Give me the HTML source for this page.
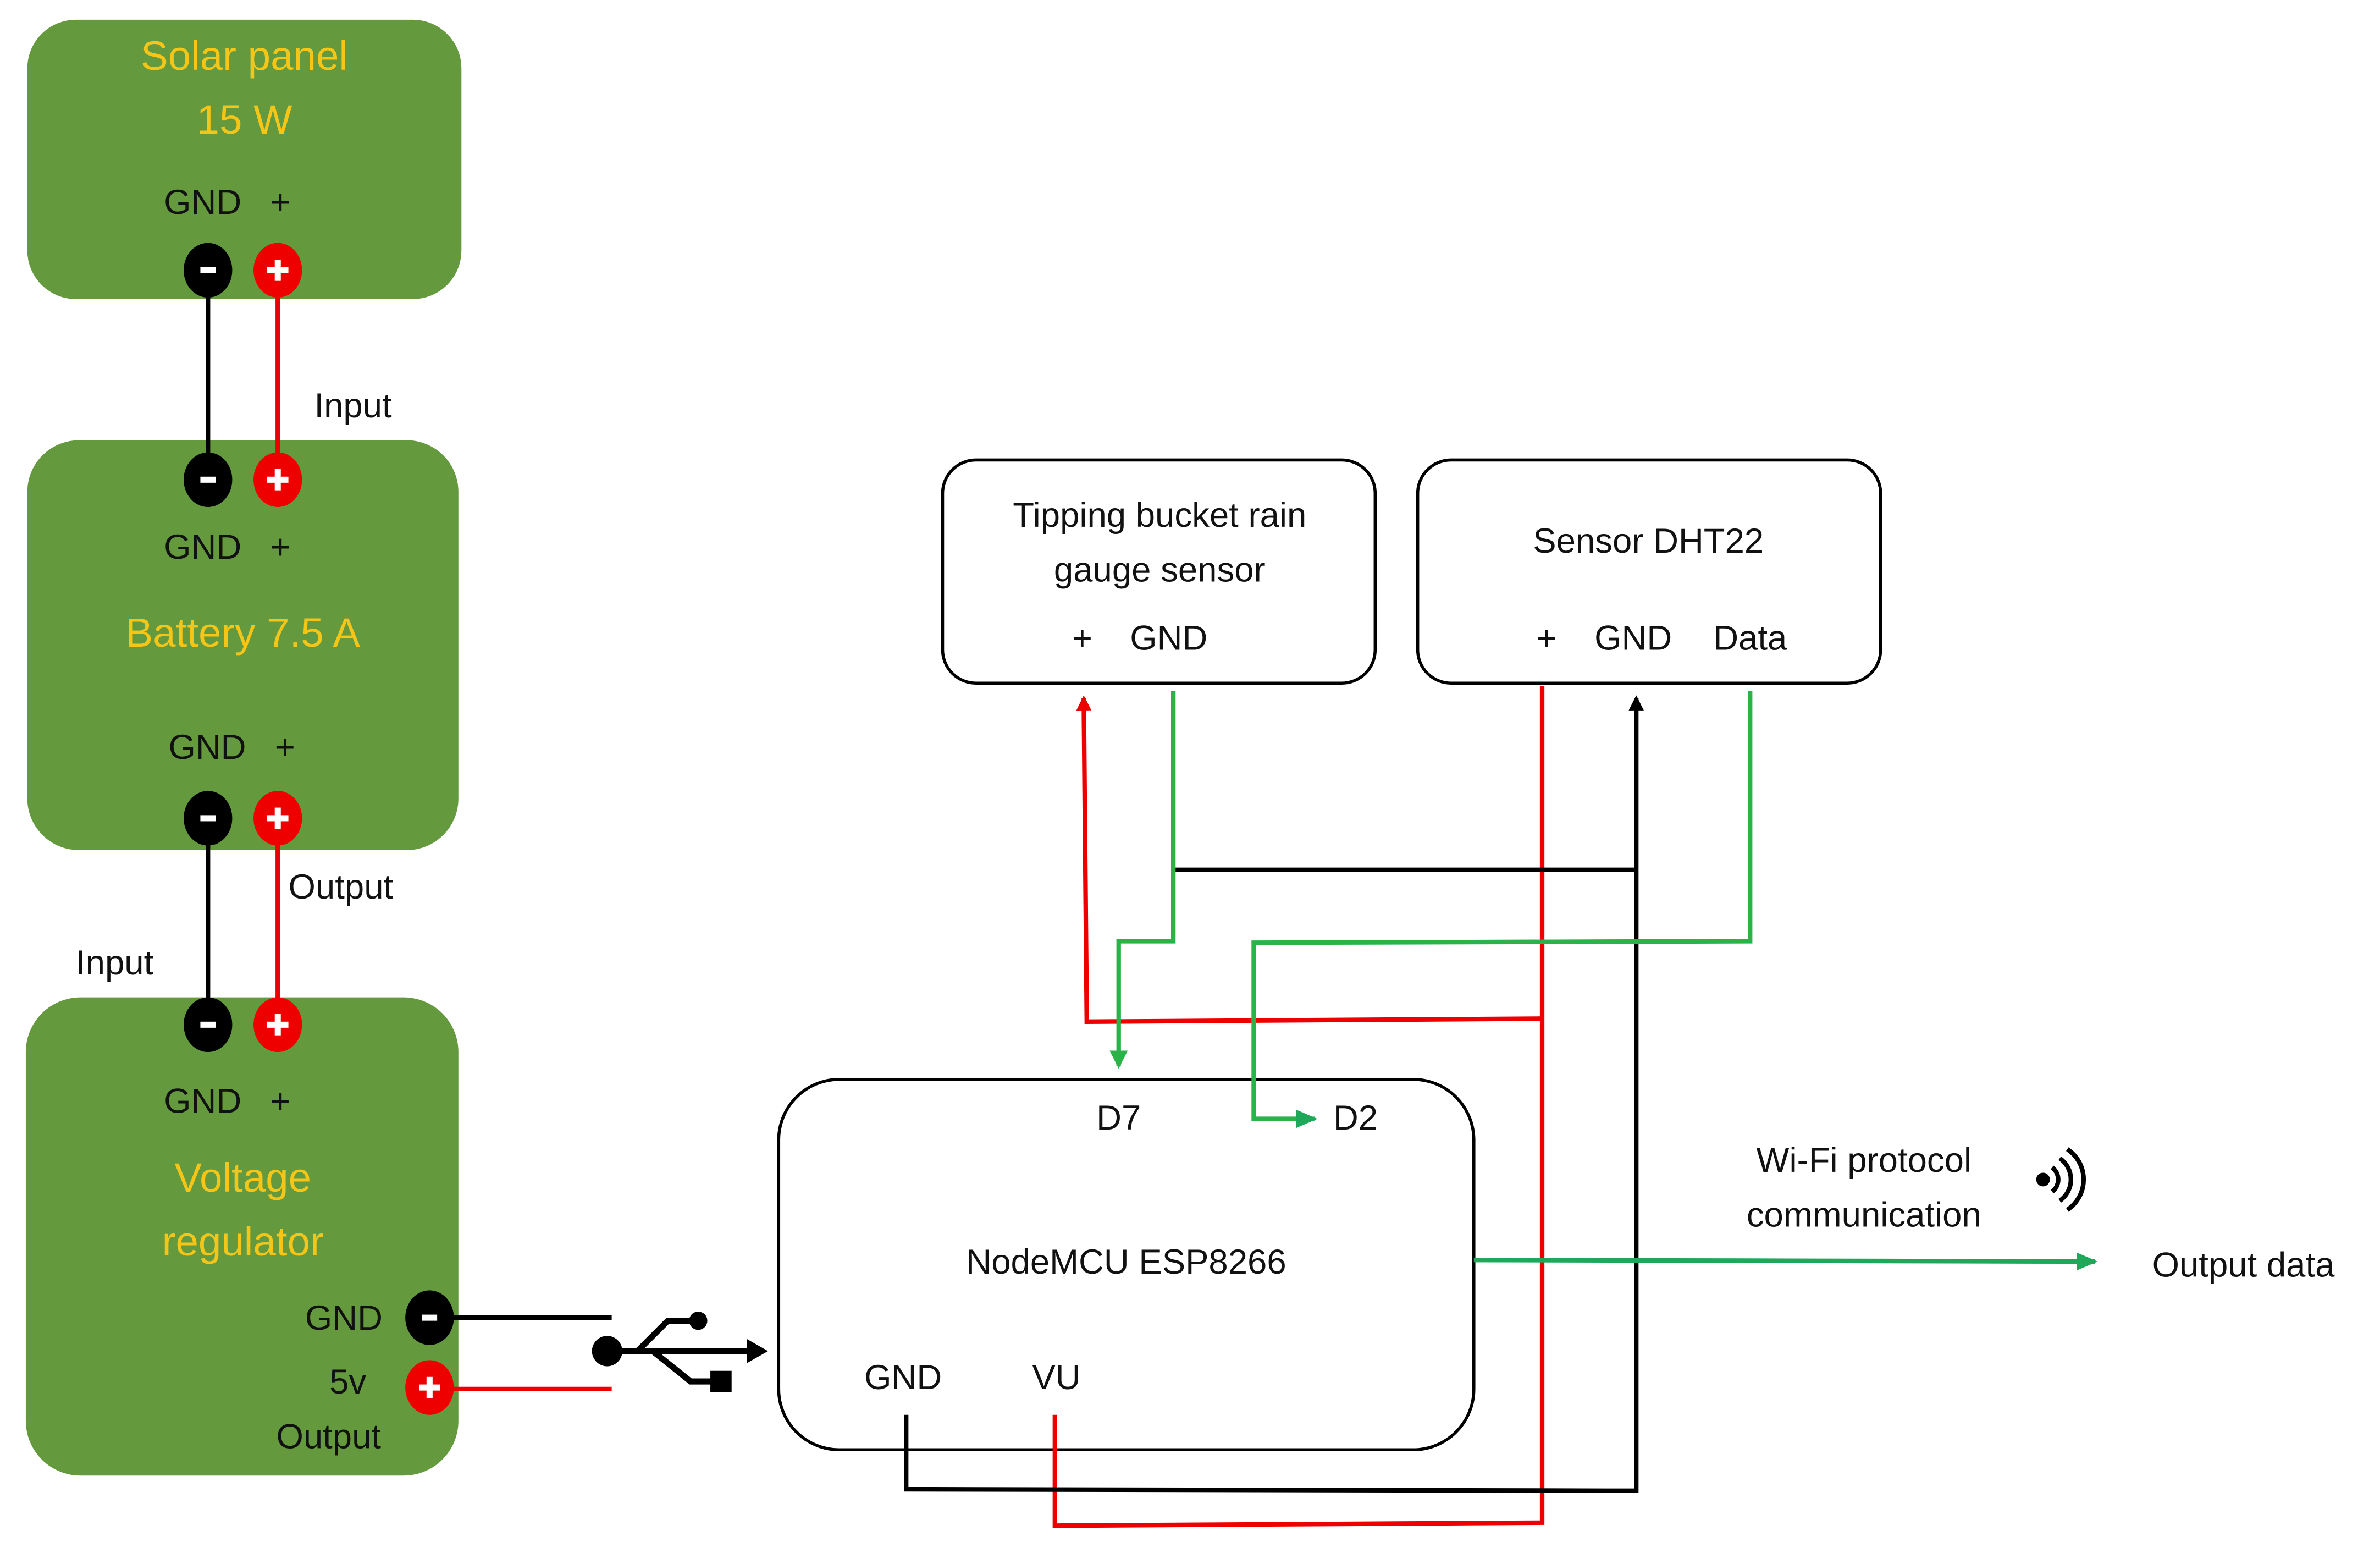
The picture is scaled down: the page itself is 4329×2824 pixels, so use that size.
<!DOCTYPE html>
<html><head><meta charset="utf-8"><style>html,body{margin:0;padding:0;background:#fff}svg{display:block}</style></head>
<body>
<svg width="4329" height="2824" viewBox="0 0 1568 1023" preserveAspectRatio="none" xmlns="http://www.w3.org/2000/svg" font-family="Liberation Sans, sans-serif">
<defs>
<marker id="ar" markerWidth="10" markerHeight="10" refX="8" refY="5" orient="auto" markerUnits="userSpaceOnUse"><path d="M0,0 L10,5 L0,10 z" fill="#e00"/></marker>
<marker id="ab" markerWidth="10" markerHeight="10" refX="8" refY="5" orient="auto" markerUnits="userSpaceOnUse"><path d="M0,0 L10,5 L0,10 z" fill="#000"/></marker>
<marker id="ag" markerWidth="12" markerHeight="12" refX="10" refY="6" orient="auto" markerUnits="userSpaceOnUse"><path d="M0,0 L12,6 L0,12 z" fill="#2bb34a"/></marker>
<marker id="ag2" markerWidth="14" markerHeight="12" refX="12" refY="6" orient="auto" markerUnits="userSpaceOnUse"><path d="M0,0 L14,6 L0,12 z" fill="#1fa85a"/></marker>
</defs>
<!-- green boxes -->
<rect x="18" y="13" width="286" height="184" rx="32" fill="#64993e"/>
<rect x="18" y="290" width="284" height="270" rx="34" fill="#64993e"/>
<rect x="17" y="657" width="285" height="315" rx="36" fill="#64993e"/>
<!-- wires between green boxes -->
<g stroke-width="3" fill="none">
<line x1="137" y1="178" x2="137" y2="316" stroke="#000"/>
<line x1="183" y1="178" x2="183" y2="316" stroke="#e00"/>
<line x1="137" y1="539" x2="137" y2="675" stroke="#000"/>
<line x1="183" y1="539" x2="183" y2="675" stroke="#e00"/>
<line x1="298" y1="868" x2="403" y2="868" stroke="#000"/>
<line x1="298" y1="915" x2="403" y2="915" stroke="#e00"/>
</g>
<!-- terminals -->
<g font-weight="bold" text-anchor="middle" fill="#fff">
<g><ellipse cx="137" cy="178" rx="16" ry="18" fill="#000"/><rect x="132" y="176" width="10" height="4" fill="#fff"/></g>
<g><ellipse cx="183" cy="178" rx="16" ry="18" fill="#e00"/><rect x="176" y="176" width="14" height="4" fill="#fff"/><rect x="181" y="171" width="4" height="14" fill="#fff"/></g>
<g><ellipse cx="137" cy="316" rx="16" ry="18" fill="#000"/><rect x="132" y="314" width="10" height="4" fill="#fff"/></g>
<g><ellipse cx="183" cy="316" rx="16" ry="18" fill="#e00"/><rect x="176" y="314" width="14" height="4" fill="#fff"/><rect x="181" y="309" width="4" height="14" fill="#fff"/></g>
<g><ellipse cx="137" cy="539" rx="16" ry="18" fill="#000"/><rect x="132" y="537" width="10" height="4" fill="#fff"/></g>
<g><ellipse cx="183" cy="539" rx="16" ry="18" fill="#e00"/><rect x="176" y="537" width="14" height="4" fill="#fff"/><rect x="181" y="532" width="4" height="14" fill="#fff"/></g>
<g><ellipse cx="137" cy="675" rx="16" ry="18" fill="#000"/><rect x="132" y="673" width="10" height="4" fill="#fff"/></g>
<g><ellipse cx="183" cy="675" rx="16" ry="18" fill="#e00"/><rect x="176" y="673" width="14" height="4" fill="#fff"/><rect x="181" y="668" width="4" height="14" fill="#fff"/></g>
<g><ellipse cx="283" cy="868" rx="16" ry="18" fill="#000"/><rect x="278" y="866" width="10" height="4" fill="#fff"/></g>
<g><ellipse cx="283" cy="914" rx="16" ry="18" fill="#e00"/><rect x="276" y="912" width="14" height="4" fill="#fff"/><rect x="281" y="907" width="4" height="14" fill="#fff"/></g>
</g>
<!-- green box text -->
<g font-size="27" fill="#f5c518" text-anchor="middle">
<text x="161" y="46">Solar panel</text>
<text x="161" y="88">15 W</text>
<text x="160" y="426">Battery 7.5 A</text>
<text x="160" y="785">Voltage</text>
<text x="160" y="827">regulator</text>
</g>
<g font-size="23" fill="#111">
<text x="108" y="141">GND</text><text x="178" y="141">+</text>
<text x="108" y="368">GND</text><text x="178" y="368">+</text>
<text x="111" y="500">GND</text><text x="181" y="500">+</text>
<text x="108" y="733">GND</text><text x="178" y="733">+</text>
<text x="201" y="876">GND</text>
<text x="217" y="918">5v</text>
<text x="182" y="954">Output</text>
<text x="207" y="275">Input</text>
<text x="190" y="592">Output</text>
<text x="50" y="642">Input</text>
</g>
<!-- USB symbol -->
<g fill="#000" stroke="#000">
<circle cx="400" cy="890" r="10" stroke="none"/>
<line x1="400" y1="890" x2="495" y2="890" stroke-width="4"/>
<path d="M492,882 L506,890 L492,898 z" stroke="none"/>
<polyline points="420,890 440,870 456,870" fill="none" stroke-width="4"/>
<circle cx="460" cy="870" r="6" stroke="none"/>
<polyline points="430,890 455,910 470,910" fill="none" stroke-width="4"/>
<rect x="468" y="903" width="14" height="14" stroke="none"/>
</g>
<!-- white boxes -->
<g fill="none" stroke="#000" stroke-width="2">
<rect x="621" y="303" width="285" height="147" rx="22"/>
<rect x="934" y="303" width="305" height="147" rx="22"/>
<rect x="513" y="711" width="458" height="244" rx="40"/>
</g>
<g font-size="23" fill="#111" text-anchor="middle">
<text x="764" y="347">Tipping bucket rain</text>
<text x="764" y="383">gauge sensor</text>
<text x="713" y="428">+</text><text x="770" y="428">GND</text>
<text x="1086" y="364">Sensor DHT22</text>
<text x="1019" y="428">+</text><text x="1076" y="428">GND</text><text x="1153" y="428">Data</text>
<text x="737" y="744">D7</text><text x="893" y="744">D2</text>
<text x="742" y="839">NodeMCU  ESP8266</text>
<text x="595" y="915">GND</text><text x="696" y="915">VU</text>
<text x="1228" y="772">Wi-Fi protocol</text>
<text x="1228" y="808">communication</text>
<text x="1478" y="841">Output data</text>
</g>
<!-- wires -->
<g fill="none" stroke-width="3">
<polyline points="695,932 695,1005 1016,1003 1016,452" stroke="#e00"/>
<polyline points="1016,671 716,673 714,460" stroke="#e00" marker-end="url(#ar)"/>
<polyline points="597,932 597,981 1078,982 1078,460" stroke="#000" marker-end="url(#ab)"/>
<line x1="774" y1="573" x2="1078" y2="573" stroke="#000"/>
<polyline points="773,455 773,620 737,620 737,702" stroke="#2bb34a" marker-end="url(#ag)"/>
<polyline points="1153,455 1153,620 826,621 826,737 866,737" stroke="#2bb34a" marker-end="url(#ag2)"/>
<line x1="971" y1="830" x2="1380" y2="831" stroke="#1fa85a" marker-end="url(#ag2)"/>
</g>
<!-- wifi icon -->
<g fill="none" stroke="#000" stroke-width="3">
<circle cx="1346" cy="777" r="3" fill="#000"/>
<path d="M1352,769 A10,10 0 0 1 1352,785"/>
<path d="M1357,763 A17,17 0 0 1 1357,791"/>
<path d="M1362,757 A24,24 0 0 1 1362,797"/>
</g>
</svg>
</body></html>
